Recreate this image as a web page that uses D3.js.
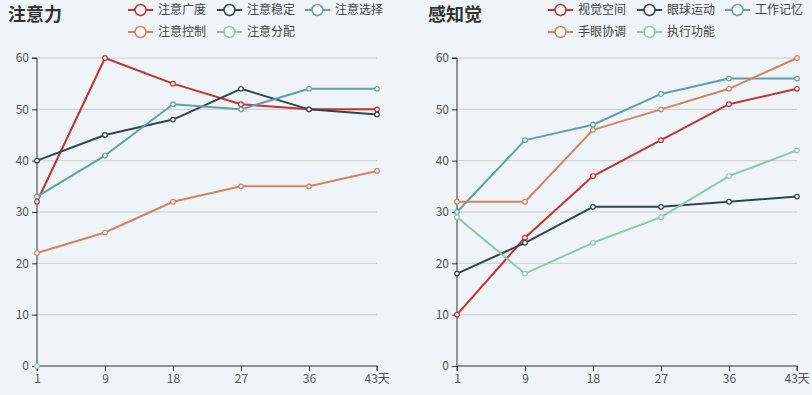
<!DOCTYPE html>
<html>
<head>
<meta charset="utf-8">
<script src="https://cdn.jsdelivr.net/npm/d3@7/dist/d3.min.js"></script>
<style>
  body { margin: 0; background: #eef4f7; }
  svg { display: block; font-family: "Microsoft YaHei", "Noto Sans CJK SC", sans-serif; }
</style>
</head>
<body>
<div id="chart"></div>
<script>
// x categories (days)
var days = ['1', '9', '18', '27', '36', '43'];
var dayUnit = '天';
var yTicks = [0, 10, 20, 30, 40, 50, 60];
var colors = ['#c23531', '#2f4554', '#61a0a8', '#d48265', '#91c7ae'];

// 注意力
var attentionNames = ['注意广度', '注意稳定', '注意选择', '注意控制', '注意分配'];
var attentionBreadth = [32, 60, 55, 51, 50, 50];
var attentionStable = [40, 45, 48, 54, 50, 49];
var attentionSelect = [33, 41, 51, 50, 54, 54];
var attentionControl = [22, 26, 32, 35, 35, 38];
var attentionSplit = [0, null, null, null, null, null];

// 感知觉
var perceptNames = ['视觉空间', '眼球运动', '工作记忆', '手眼协调', '执行功能'];
var visualSpace = [10, 25, 37, 44, 51, 54];
var eyeMove = [18, 24, 31, 31, 32, 33];
var workMemory = [30, 44, 47, 53, 56, 56];
var handEye = [32, 32, 46, 50, 54, 60];
var execFunc = [29, 18, 24, 29, 37, 42];

var W = 812, H = 395;
var svg = d3.select('#chart').append('svg').attr('width', W).attr('height', H);
svg.append('rect').attr('width', W).attr('height', H).attr('fill', '#eef4f7');

function drawChart(ox, title, names, series) {
  var g = svg.append('g').attr('transform', 'translate(' + ox + ',0)');
  var left = 37, right = 377, top = 58, bottom = 366;
  var lastDay = days[days.length - 1];

  var x = d3.scalePoint().domain(days).range([left, right]);
  var y = d3.scaleLinear().domain([0, 60]).range([bottom, top]);

  // title
  g.append('text')
    .attr('x', 8).attr('y', 21)
    .attr('font-size', 18).attr('font-weight', 'bold').attr('fill', '#333')
    .text(title);

  // grid
  g.append('g').selectAll('line')
    .data(yTicks.filter(function(d) { return d > 0; }))
    .enter().append('line')
      .attr('x1', left).attr('x2', right)
      .attr('y1', function(d) { return y(d); })
      .attr('y2', function(d) { return y(d); })
      .attr('stroke', '#ccc').attr('stroke-width', 1);

  // axes
  var yAxis = g.append('g')
    .attr('transform', 'translate(' + left + ',0)')
    .call(d3.axisLeft(y).tickValues(yTicks).tickSize(5).tickPadding(3));
  var xAxis = g.append('g')
    .attr('transform', 'translate(0,' + bottom + ')')
    .call(d3.axisBottom(x).tickSize(5).tickPadding(3)
      .tickFormat(function(d) { return d === lastDay ? d + dayUnit : d; }));

  [yAxis, xAxis].forEach(function(a) {
    a.select('.domain').attr('stroke', '#333');
    a.selectAll('.tick line').attr('stroke', '#333');
    a.selectAll('.tick text')
      .attr('fill', '#555').attr('font-size', 12)
      .attr('font-family', '"Microsoft YaHei", "Noto Sans CJK SC", sans-serif');
  });
  yAxis.select('.domain').attr('d', 'M-5,' + top + 'H0V' + bottom);
  xAxis.select('.domain').attr('d', 'M' + left + ',5V0H' + right + 'V5');

  // last label: number ends at the tick, unit follows
  xAxis.selectAll('.tick').filter(function(d) { return d === lastDay; })
    .select('text').attr('text-anchor', 'start').attr('x', -13);

  // lines
  var line = d3.line()
    .defined(function(d) { return d != null; })
    .x(function(d, i) { return x(days[i]); })
    .y(function(d) { return y(d); });

  series.forEach(function(s, k) {
    g.append('path')
      .datum(s)
      .attr('fill', 'none')
      .attr('stroke', colors[k])
      .attr('stroke-width', 2)
      .attr('stroke-linejoin', 'round')
      .attr('d', line);
  });
  series.forEach(function(s, k) {
    g.append('g').selectAll('circle')
      .data(s.map(function(v, i) { return { v: v, i: i }; }).filter(function(d) { return d.v != null; }))
      .enter().append('circle')
        .attr('cx', function(d) { return x(days[d.i]); })
        .attr('cy', function(d) { return y(d.v); })
        .attr('r', 2.3)
        .attr('fill', '#fff')
        .attr('stroke', colors[k])
        .attr('stroke-width', 1.2);
  });

  // legend
  var lx = [128, 217, 305];
  var legend = g.append('g').selectAll('g')
    .data(names)
    .enter().append('g')
      .attr('transform', function(d, i) {
        return 'translate(' + lx[i % 3] + ',' + (i < 3 ? 10 : 32) + ')';
      });
  legend.append('line')
    .attr('x1', 0).attr('x2', 25)
    .attr('stroke', function(d, i) { return colors[i]; })
    .attr('stroke-width', 2);
  legend.append('circle')
    .attr('cx', 12.5).attr('r', 5.5)
    .attr('fill', '#fff')
    .attr('stroke', function(d, i) { return colors[i]; })
    .attr('stroke-width', 1.5);
  legend.append('text')
    .attr('x', 30).attr('dy', '0.35em')
    .attr('font-size', 12).attr('fill', '#444')
    .text(function(d) { return d; });
}

drawChart(0, '注意力', attentionNames,
  [attentionBreadth, attentionStable, attentionSelect, attentionControl, attentionSplit]);
drawChart(420, '感知觉', perceptNames,
  [visualSpace, eyeMove, workMemory, handEye, execFunc]);
</script>
</body>
</html>
